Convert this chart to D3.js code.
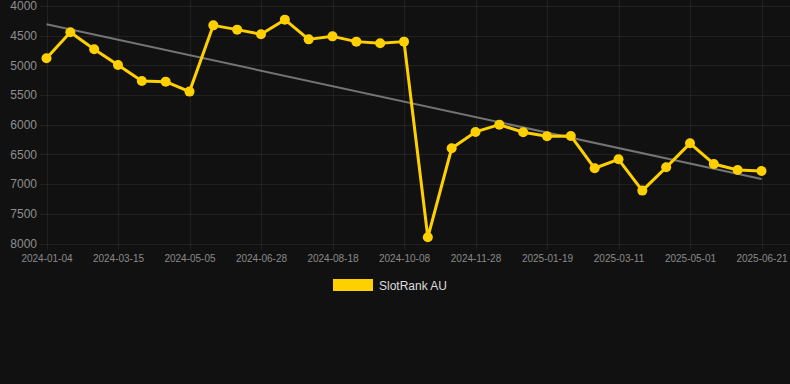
<!DOCTYPE html>
<html><head><meta charset="utf-8">
<script src="https://cdn.jsdelivr.net/npm/d3@7"></script>
<style>html,body{margin:0;padding:0;background:#111111;}svg{display:block;}</style>
</head><body>
<svg id="chart" width="790" height="384"></svg>
<script>
const categories = ["2024-01-04","2024-01-28","2024-02-21","2024-03-15","2024-04-01","2024-04-18","2024-05-05","2024-05-23","2024-06-10","2024-06-28","2024-07-22","2024-08-01","2024-08-18","2024-09-05","2024-09-21","2024-10-08","2024-10-25","2024-11-11","2024-11-28","2024-12-15","2025-01-02","2025-01-19","2025-02-05","2025-02-22","2025-03-11","2025-03-28","2025-04-14","2025-05-01","2025-05-18","2025-06-04","2025-06-21"];
const rankValues = [4880,4443,4729,4993,5263,5274,5442,4326,4398,4477,4230,4562,4511,4600,4628,4600,7895,6396,6121,5998,6127,6194,6189,6733,6582,7109,6717,6313,6660,6761,6778];
const yTicks = [4000,4500,5000,5500,6000,6500,7000,7500,8000];
const seriesName = "SlotRank AU";

(function () {
const svg = d3.select("#chart");
const W = 790;
const pLeft = 46.5, pRight = 761.5, pTop = 6, pBottom = 243.5;

const x = d3.scalePoint().domain(categories).range([pLeft, pRight]);
const y = d3.scaleLinear().domain([4000, 8000]).range([pTop, pBottom]);

const grid = "rgba(255,255,255,0.07)";
svg.append("g").selectAll("line").data(yTicks).join("line")
  .attr("x1", 40).attr("x2", W)
  .attr("y1", d => Math.round(y(d)) + 0.5).attr("y2", d => Math.round(y(d)) + 0.5)
  .attr("stroke", grid).attr("stroke-width", 1);
const shown = categories.filter((d, i) => i % 3 === 0);
svg.append("g").selectAll("line").data(shown).join("line")
  .attr("x1", d => Math.round(x(d)) + 0.5).attr("x2", d => Math.round(x(d)) + 0.5)
  .attr("y1", 0).attr("y2", pBottom + 6)
  .attr("stroke", grid).attr("stroke-width", 1);

const yAxis = d3.axisLeft(y).tickValues(yTicks).tickSize(0).tickPadding(0).tickFormat(d3.format("d"));
const gy = svg.append("g").attr("transform", "translate(37,0)").call(yAxis);
gy.select(".domain").remove();
gy.selectAll("text").attr("fill", "#8e8e8e").attr("font-family", "Liberation Sans, Arial, sans-serif").attr("font-size", 12);

const xAxis = d3.axisBottom(x).tickValues(shown).tickSize(0).tickPadding(0);
const gx = svg.append("g").attr("transform", `translate(0,${pBottom + 11.5})`).call(xAxis);
gx.select(".domain").remove();
gx.selectAll("text").attr("fill", "#8a8a8a").attr("font-family", "Liberation Sans, Arial, sans-serif").attr("font-size", 10);

const n = rankValues.length;
const xs = d3.range(n);
const mx = d3.mean(xs), my = d3.mean(rankValues);
const slope = d3.sum(xs, i => (i - mx) * (rankValues[i] - my)) / d3.sum(xs, i => (i - mx) ** 2);
const icpt = my - slope * mx;
svg.append("line")
  .attr("x1", x(categories[0])).attr("y1", y(icpt))
  .attr("x2", x(categories[n - 1])).attr("y2", y(icpt + slope * (n - 1)))
  .attr("stroke", "rgba(150,150,150,0.75)").attr("stroke-width", 2);

const line = d3.line().x((d, i) => x(categories[i])).y(d => y(d));
svg.append("path").datum(rankValues).attr("d", line)
  .attr("fill", "none").attr("stroke", "#FFD000").attr("stroke-width", 3).attr("stroke-linejoin", "round");
svg.append("g").selectAll("circle").data(rankValues).join("circle")
  .attr("cx", (d, i) => x(categories[i])).attr("cy", d => y(d)).attr("r", 5)
  .attr("fill", "#FFD000");

svg.append("rect").attr("x", 333).attr("y", 279).attr("width", 40).attr("height", 12).attr("fill", "#FFD000");
svg.append("text").attr("x", 379).attr("y", 289.5).text(seriesName)
  .attr("fill", "#dddddd").attr("font-family", "Liberation Sans, Arial, sans-serif").attr("font-size", 12);
})();
</script>
</body></html>
